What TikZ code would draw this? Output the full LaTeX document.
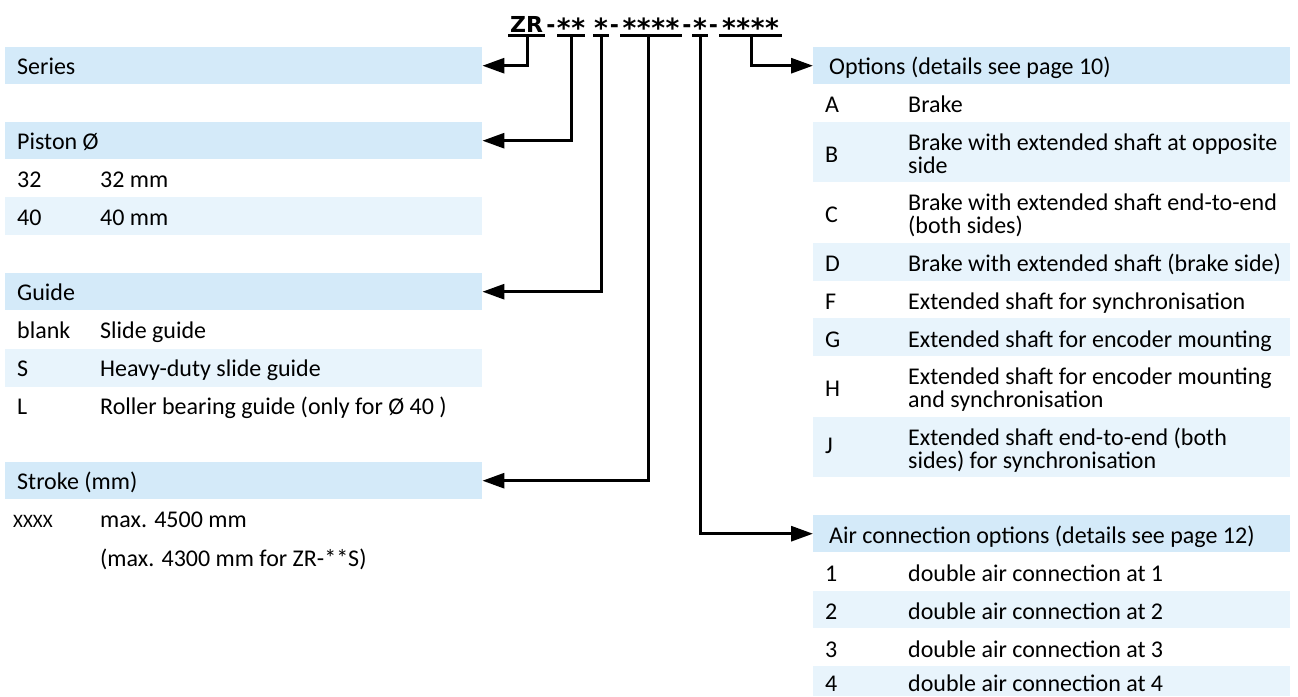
\documentclass[tikz,border=0pt]{standalone}
\usepackage{graphicx}
\usepackage{fontspec}
\setmainfont{Carlito}
\newfontfamily\dgcodefam{DejaVu Sans}
\usetikzlibrary{arrows.meta}
\definecolor{hdrblue}{RGB}{212,234,249}
\definecolor{rowblue}{RGB}{232,244,252}
\newcommand\dgfont{\fontsize{24}{24}\selectfont}
\newcommand\dgsmall{\fontsize{19}{19}\selectfont}
\newcommand\dgcode{\dgcodefam\fontsize{22}{22}\selectfont\bfseries}
\newcommand\dgst{\makebox[14.3pt]{\raisebox{-5.5pt}{\scalebox{1.2}{*}}}}
\begin{document}
\begin{tikzpicture}[x=1pt,y=-1pt,
  hdr/.style={fill=hdrblue, draw=none, inner sep=0pt, minimum width=477pt, minimum height=37pt, anchor=north west},
  txt/.style={anchor=base west, inner sep=0pt, font=\dgfont},
  cd/.style={anchor=base, inner sep=0pt, font=\dgcode},
  uline/.style={line width=3pt},
  conn/.style={line width=3pt, -{Triangle[length=22pt,width=15pt]}}]
\useasboundingbox[fill=white] (0,0) rectangle (1298,696);

% ---------- code line ----------
\node[cd] (c1) at (526.5,32) {ZR};
\node[cd] (d1) at (551,32) {-};
\node[cd] (c2) at (571,32) {\dgst\dgst};
\node[cd] (c3) at (601,32) {\dgst};
\node[cd] (d2) at (614.5,32) {-};
\node[cd] (c4) at (651,32) {\dgst\dgst\dgst\dgst};
\node[cd] (d3) at (687,32) {-};
\node[cd] (c5) at (700,32) {\dgst};
\node[cd] (d4) at (713.5,32) {-};
\node[cd] (c6) at (750.5,32) {\dgst\dgst\dgst\dgst};
\draw[uline] (508,35.5) -- (545,35.5);
\draw[uline] (557,35.5) -- (585,35.5);
\draw[uline] (593,35.5) -- (609,35.5);
\draw[uline] (620,35.5) -- (682,35.5);
\draw[uline] (692,35.5) -- (708,35.5);
\draw[uline] (719,35.5) -- (782,35.5);
\coordinate (t1) at (527,35.5);
\coordinate (t2) at (571,35.5);
\coordinate (t3) at (601,35.5);
\coordinate (t4) at (648,35.5);
\coordinate (t5) at (700,35.5);
\coordinate (t6) at (751,35.5);

% ---------- left column ----------
\node[hdr] (series) at (5,47) {};
\node[txt] (seriesT) at (17,74) {Series};

\node[hdr] (piston) at (5,122) {};
\node[txt] (pistonT) at (17,149) {Piston Ø};
\fill[rowblue] (5,197) rectangle (482,235);
\node[txt] (p32) at (17,187) {32};
\node[txt] (p32d) at (100,187) {32 mm};
\node[txt] (p40) at (17,225) {40};
\node[txt] (p40d) at (100,225) {40 mm};

\node[hdr] (guide) at (5,273) {};
\node[txt] (guideT) at (17,300) {Guide};
\fill[rowblue] (5,349) rectangle (482,387);
\node[txt] (gb) at (17,338) {blank};
\node[txt] (gbd) at (100,338) {Slide guide};
\node[txt] (gs) at (17,376) {S};
\node[txt] (gsd) at (100,376) {Heavy-duty slide guide};
\node[txt] (gl) at (17,414) {L};
\node[txt] (gld) at (100,414) {Roller bearing guide (only for Ø 40 )};

\node[hdr] (stroke) at (5,462) {};
\node[txt] (strokeT) at (17,489) {Stroke (mm)};
\node[txt, font=\dgsmall] (sx) at (13,527) {XXXX};
\node[txt] (sxd) at (100,527) {max. 4500 mm};
\node[txt] (sxd2) at (100,566) {(max. 4300 mm for ZR-**S)};

% ---------- right column ----------
\node[hdr] (options) at (813,47) {};
\node[txt] (optionsT) at (829,74) {Options (details see page 10)};
\fill[rowblue] (813,122) rectangle (1290,182);
\fill[rowblue] (813,243) rectangle (1290,281);
\fill[rowblue] (813,318) rectangle (1290,356);
\fill[rowblue] (813,417) rectangle (1290,477);
\node[txt] (oA) at (825,112) {A};
\node[txt] (oAd) at (908,112) {Brake};
\node[txt] (oB) at (825,162) {B};
\node[txt] (oBd) at (908,150.5) {Brake with extended shaft at opposite};
\node[txt] (oBe) at (908,173.5) {side};
\node[txt] (oC) at (825,222) {C};
\node[txt] (oCd) at (908,210.5) {Brake with extended shaft end-to-end};
\node[txt] (oCe) at (908,233.5) {(both sides)};
\node[txt] (oD) at (825,271.5) {D};
\node[txt] (oDd) at (908,271.5) {Brake with extended shaft (brake side)};
\node[txt] (oF) at (825,309.5) {F};
\node[txt] (oFd) at (908,309.5) {Extended shaft for synchronisation};
\node[txt] (oG) at (825,347.5) {G};
\node[txt] (oGd) at (908,347.5) {Extended shaft for encoder mounting};
\node[txt] (oH) at (825,396) {H};
\node[txt] (oHd) at (908,384.5) {Extended shaft for encoder mounting};
\node[txt] (oHe) at (908,407.5) {and synchronisation};
\node[txt] (oJ) at (825,453) {J};
\node[txt] (oJd) at (908,445.5) {Extended shaft end-to-end (both};
\node[txt] (oJe) at (908,468.5) {sides) for synchronisation};

\node[hdr] (air) at (813,515) {};
\node[txt] (airT) at (829,543) {Air connection options (details see page 12)};
\fill[rowblue] (813,591) rectangle (1290,628);
\fill[rowblue] (813,666) rectangle (1290,696);
\node[txt] (a1) at (825,581) {1};
\node[txt] (a1d) at (908,581) {double air connection at 1};
\node[txt] (a2) at (825,619) {2};
\node[txt] (a2d) at (908,619) {double air connection at 2};
\node[txt] (a3) at (825,657) {3};
\node[txt] (a3d) at (908,657) {double air connection at 3};
\node[txt] (a4) at (825,691) {4};
\node[txt] (a4d) at (908,691) {double air connection at 4};

% ---------- connectors ----------
\draw[conn] (t1) |- (series.east);
\draw[conn] (t2) |- (piston.east);
\draw[conn] (t3) |- (guide.east);
\draw[conn] (t4) |- (stroke.east);
\draw[conn] (t5) |- (air.west);
\draw[conn] (t6) |- (options.west);
\end{tikzpicture}
\end{document}
